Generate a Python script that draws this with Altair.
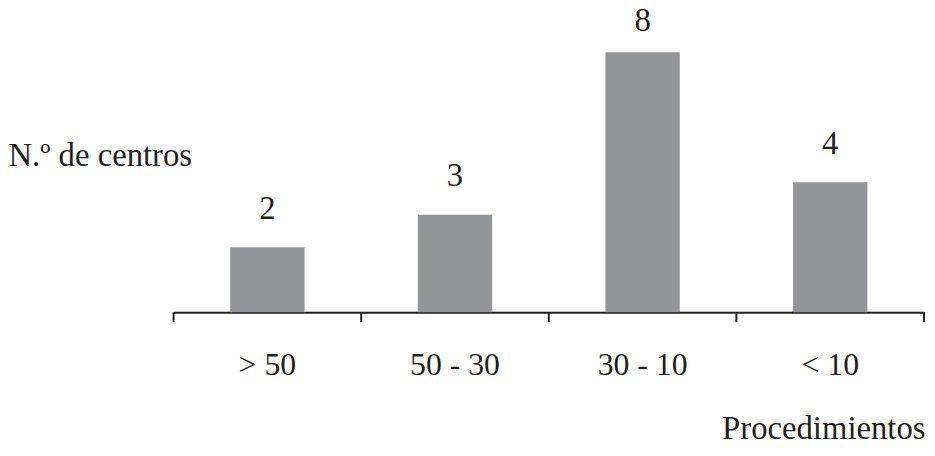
import altair as alt
import pandas as pd

categories = ["> 50", "50 - 30", "30 - 10", "< 10"]
values = [2, 3, 8, 4]

df = pd.DataFrame({"cat": categories, "val": values})

W = 757
H = 295
FONT = "Liberation Serif"
DARK = "#231f20"

x_enc = alt.X(
    "cat:N",
    sort=categories,
    scale=alt.Scale(paddingInner=0, paddingOuter=0),
    axis=alt.Axis(
        title="Procedimientos",
        labelAngle=0,
        ticks=False,
        domainColor=DARK,
        domainWidth=2,
        labelFont=FONT,
        labelFontSize=32,
        labelColor=DARK,
        labelBaseline="alphabetic",
        labelPadding=63,
        titleFont=FONT,
        titleFontSize=33,
        titleFontWeight="normal",
        titleColor=DARK,
        titleAnchor="end",
        titleAlign="right",
        titleBaseline="alphabetic",
        titleX=W + 1,
        titleY=127,
    ),
)

y_enc = alt.Y(
    "val:Q",
    scale=alt.Scale(domain=[0, 9]),
    axis=alt.Axis(
        title="N.º de centros",
        domain=False,
        ticks=False,
        labels=False,
        grid=False,
        titleAngle=0,
        titleFont=FONT,
        titleFontSize=33,
        titleFontWeight="normal",
        titleColor=DARK,
        titleAlign="left",
        titleBaseline="alphabetic",
        titleX=-167,
        titleY=147,
    ),
)

base = alt.Chart(df)

bars = base.mark_bar(size=75, color="#939598").encode(x=x_enc, y=y_enc)

labels = base.mark_text(
    font=FONT, fontSize=33, color=DARK, dy=-29, baseline="alphabetic"
).encode(x=alt.X("cat:N", sort=categories), y="val:Q", text="val:Q").transform_filter(
    alt.datum.val < max(values)
)

top_label = base.mark_text(
    font=FONT, fontSize=33, color=DARK, dy=-21, baseline="alphabetic"
).encode(x=alt.X("cat:N", sort=categories), y="val:Q", text="val:Q").transform_filter(
    alt.datum.val >= max(values)
)

ticks = base.mark_rule(color=DARK, strokeWidth=2).encode(
    x=alt.X("cat:N", sort=categories, bandPosition=0),
    y=alt.value(H),
    y2=alt.value(H + 10),
)

last_tick = alt.Chart(pd.DataFrame({"a": [0]})).mark_rule(
    color=DARK, strokeWidth=2
).encode(x=alt.value(W), y=alt.value(H), y2=alt.value(H + 10))

chart = (
    alt.layer(bars, labels, top_label, ticks, last_tick)
    .properties(
        width=W,
        height=H,
        background="white",
        autosize=alt.AutoSizeParams(type="none"),
        padding={"left": 167, "top": 10, "right": 3, "bottom": 135},
    )
    .configure(font=FONT)
    .configure_view(strokeWidth=0, stroke=None)
)

chart.save("out.html", embed_options={"renderer": "svg", "actions": False})
